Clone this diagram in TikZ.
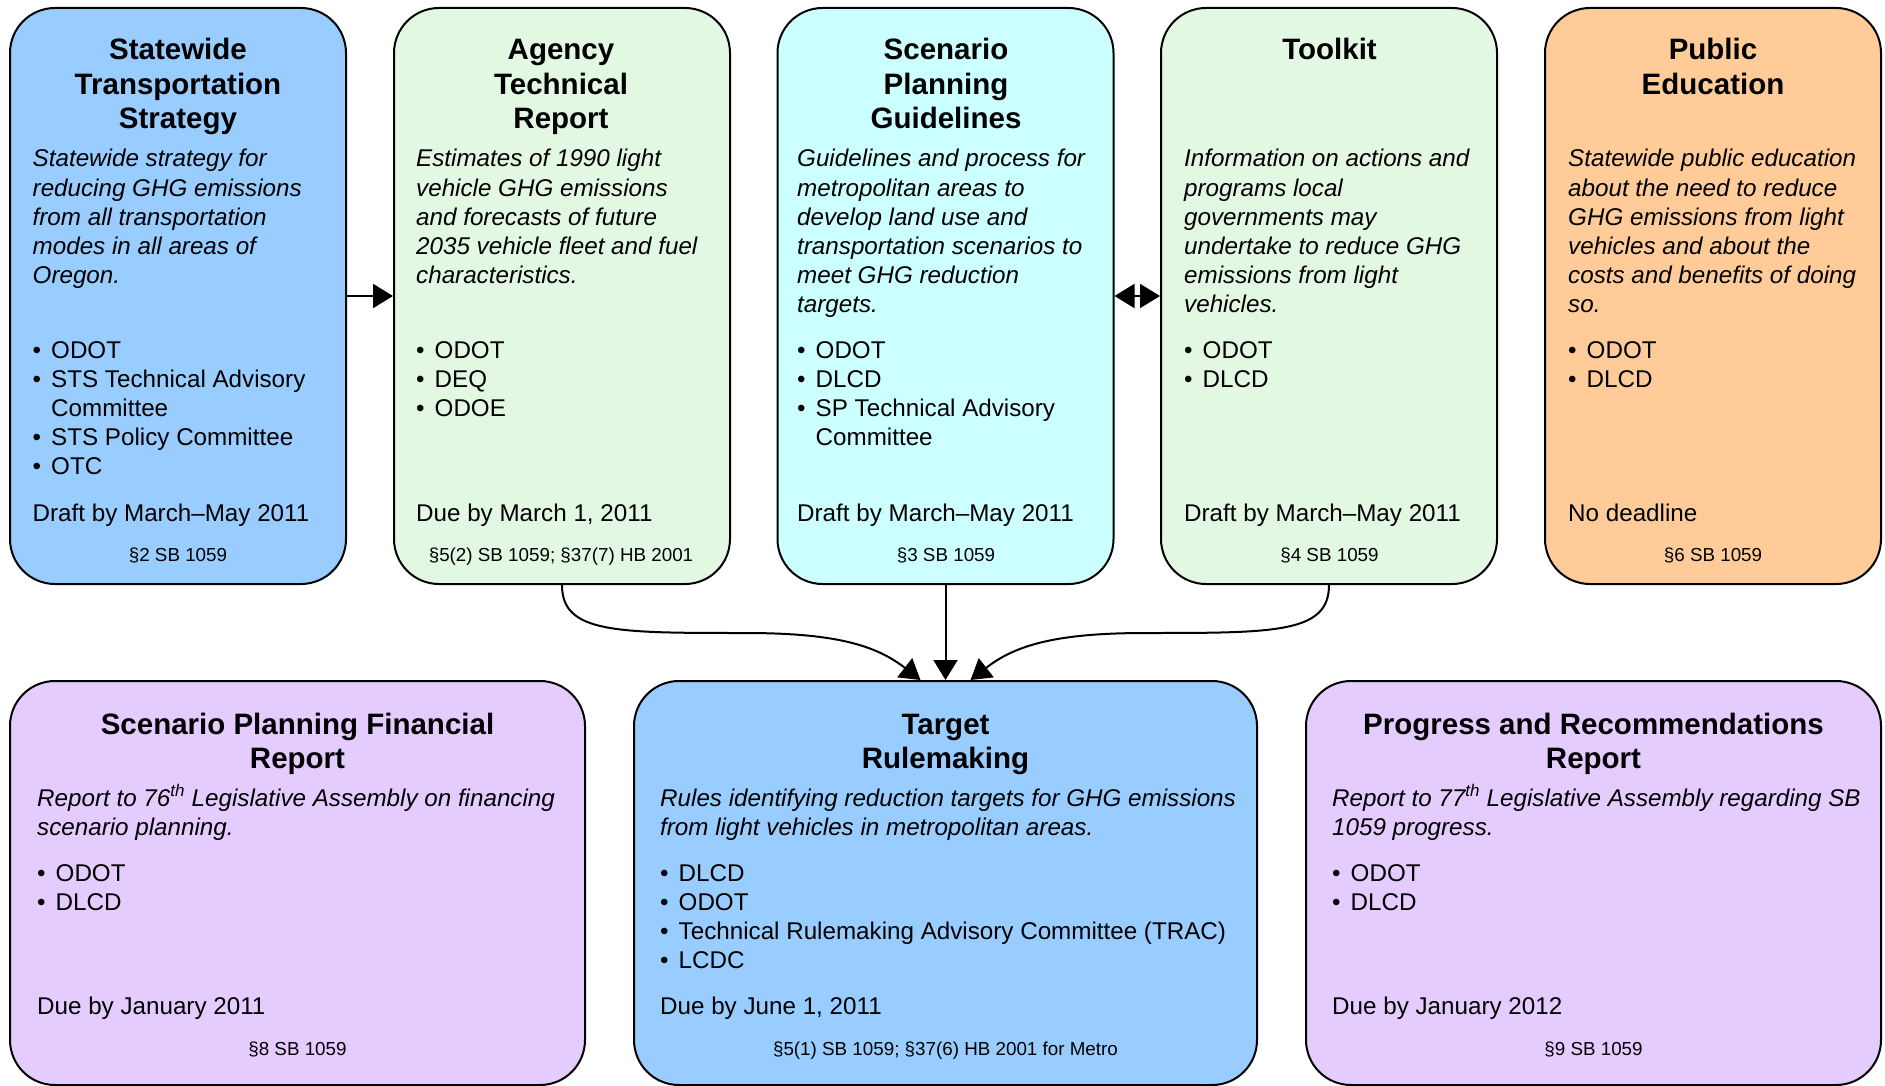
\documentclass[tikz,border=0pt]{standalone}
\usepackage{fontspec}
\setmainfont{Liberation Sans}
\usetikzlibrary{arrows.meta}
\definecolor{cblue}{HTML}{99CCFF}
\definecolor{cgreen}{HTML}{E3F8E3}
\definecolor{ccyan}{HTML}{CCFFFF}
\definecolor{corange}{HTML}{FFCC99}
\definecolor{cviolet}{HTML}{E5CCFF}
\newcommand\tlines[1]{\begin{tabular}[t]{@{}c@{}}#1\end{tabular}}
\newcommand\llines[1]{\begin{tabular}[t]{@{}l@{}}#1\end{tabular}}
\newcommand\bul{\makebox[18.5pt][l]{•}}
\newcommand\ind{\hspace*{18.5pt}}
\tikzset{
  xbox/.style={draw=black, line width=2pt, rounded corners=45pt, inner sep=0pt},
  topbox/.style={xbox, minimum width=336pt, minimum height=576pt},
  botbox/.style={xbox, minimum height=404pt},
  xttl/.style={anchor=base, inner sep=0pt, font=\fontsize{29.5}{34.5}\selectfont\bfseries},
  xdesc/.style={anchor=base west, inner sep=0pt, font=\fontsize{24.2}{29.2}\selectfont\itshape},
  xbody/.style={anchor=base west, inner sep=0pt, font=\fontsize{24.2}{29.2}\selectfont},
  xref/.style={anchor=base, inner sep=0pt, font=\fontsize{18.8}{22}\selectfont},
  conn/.style={line width=2pt, -{Triangle[length=20pt,width=24pt]}},
  dconn/.style={line width=2pt, {Triangle[length=20pt,width=24pt]}-{Triangle[length=20pt,width=24pt]}},
}
\begin{document}
\begin{tikzpicture}[x=1pt,y=-1pt]
\useasboundingbox (0,0) rectangle (1885,1086);
% boxes
\node[topbox, fill=cblue]   (b1) at (178,296) {};
\node[topbox, fill=cgreen]  (b2) at (562,296) {};
\node[topbox, fill=ccyan]   (b3) at (945.5,296) {};
\node[topbox, fill=cgreen]  (b4) at (1329,296) {};
\node[topbox, fill=corange] (b5) at (1713,296) {};
\node[botbox, fill=cviolet, minimum width=575pt] (b6) at (297.5,883) {};
\node[botbox, fill=cblue,   minimum width=623pt] (b7) at (945.5,883) {};
\node[botbox, fill=cviolet, minimum width=575pt] (b8) at (1593.5,883) {};

% box 1
\node[xttl] (t1) at (178,60) {\tlines{Statewide\\Transportation\\Strategy}};
\node[xdesc] (d1) at (32.5,167) {\llines{Statewide strategy for\\reducing GHG emissions\\from all transportation\\modes in all areas of\\Oregon.}};
\node[xbody] (l1) at (32.5,358) {\llines{\bul ODOT\\\bul STS Technical Advisory\\\ind Committee\\\bul STS Policy Committee\\\bul OTC}};
\node[xbody] (dt1) at (32.5,521) {Draft by March–May 2011};
\node[xref] (r1) at (178,561) {§2 SB 1059};

% box 2
\node[xttl] (t2) at (561,60) {\tlines{Agency\\Technical\\Report}};
\node[xdesc] (d2) at (416,167) {\llines{Estimates of 1990 light\\vehicle GHG emissions\\and forecasts of future\\2035 vehicle fleet and fuel\\characteristics.}};
\node[xbody] (l2) at (416,358) {\llines{\bul ODOT\\\bul DEQ\\\bul ODOE}};
\node[xbody] (dt2) at (416,521) {Due by March 1, 2011};
\node[xref] (r2) at (561,561) {§5(2) SB 1059; §37(7) HB 2001};

% box 3
\node[xttl] (t3) at (946,60) {\tlines{Scenario\\Planning\\Guidelines}};
\node[xdesc] (d3) at (797,167) {\llines{Guidelines and process for\\metropolitan areas to\\develop land use and\\transportation scenarios to\\meet GHG reduction\\targets.}};
\node[xbody] (l3) at (797,358) {\llines{\bul ODOT\\\bul DLCD\\\bul SP Technical Advisory\\\ind Committee}};
\node[xbody] (dt3) at (797,521) {Draft by March–May 2011};
\node[xref] (r3) at (946,561) {§3 SB 1059};

% box 4
\node[xttl] (t4) at (1329.5,60) {\tlines{Toolkit}};
\node[xdesc] (d4) at (1184,167) {\llines{Information on actions and\\programs local\\governments may\\undertake to reduce GHG\\emissions from light\\vehicles.}};
\node[xbody] (l4) at (1184,358) {\llines{\bul ODOT\\\bul DLCD}};
\node[xbody] (dt4) at (1184,521) {Draft by March–May 2011};
\node[xref] (r4) at (1329.5,561) {§4 SB 1059};

% box 5
\node[xttl] (t5) at (1713,60) {\tlines{Public\\Education}};
\node[xdesc] (d5) at (1568,167) {\llines{Statewide public education\\about the need to reduce\\GHG emissions from light\\vehicles and about the\\costs and benefits of doing\\so.}};
\node[xbody] (l5) at (1568,358) {\llines{\bul ODOT\\\bul DLCD}};
\node[xbody] (dt5) at (1568,521) {No deadline};
\node[xref] (r5) at (1713,561) {§6 SB 1059};

% box 6
\node[xttl] (t6) at (297.5,734) {\tlines{Scenario Planning Financial\\Report}};
\node[xdesc] (d6) at (37,806) {\llines{Report to 76\textsuperscript{th} Legislative Assembly on financing\\scenario planning.}};
\node[xbody] (l6) at (37,881) {\llines{\bul ODOT\\\bul DLCD}};
\node[xbody] (dt6) at (37,1014) {Due by January 2011};
\node[xref] (r6) at (297.5,1055) {§8 SB 1059};

% box 7
\node[xttl] (t7) at (945.5,734) {\tlines{Target\\Rulemaking}};
\node[xdesc] (d7) at (660,806) {\llines{Rules identifying reduction targets for GHG emissions\\from light vehicles in metropolitan areas.}};
\node[xbody] (l7) at (660,881) {\llines{\bul DLCD\\\bul ODOT\\\bul Technical Rulemaking Advisory Committee (TRAC)\\\bul LCDC}};
\node[xbody] (dt7) at (660,1014) {Due by June 1, 2011};
\node[xref] (r7) at (945.5,1055) {§5(1) SB 1059; §37(6) HB 2001 for Metro};

% box 8
\node[xttl] (t8) at (1593.5,734) {\tlines{Progress and Recommendations\\Report}};
\node[xdesc] (d8) at (1332,806) {\llines{Report to 77\textsuperscript{th} Legislative Assembly regarding SB\\1059 progress.}};
\node[xbody] (l8) at (1332,881) {\llines{\bul ODOT\\\bul DLCD}};
\node[xbody] (dt8) at (1332,1014) {Due by January 2012};
\node[xref] (r8) at (1593.5,1055) {§9 SB 1059};

% connectors
\draw[conn] (b1.east) -- (b2.west);
\draw[dconn] (b3.east) -- (b4.west);
\coordinate (m1) at (745,633);
\coordinate (m2) at (1146,633);
\draw[conn] (b2.south) .. controls +(0,48) and +(-130,0) .. (m1)
  .. controls +(90,0) and +(-45,-35) .. ([xshift=-25pt]b7.north);
\draw[conn] (b3.south) -- (b7.north);
\draw[conn] (b4.south) .. controls +(0,48) and +(130,0) .. (m2)
  .. controls +(-90,0) and +(45,-35) .. ([xshift=25pt]b7.north);
\end{tikzpicture}
\end{document}
